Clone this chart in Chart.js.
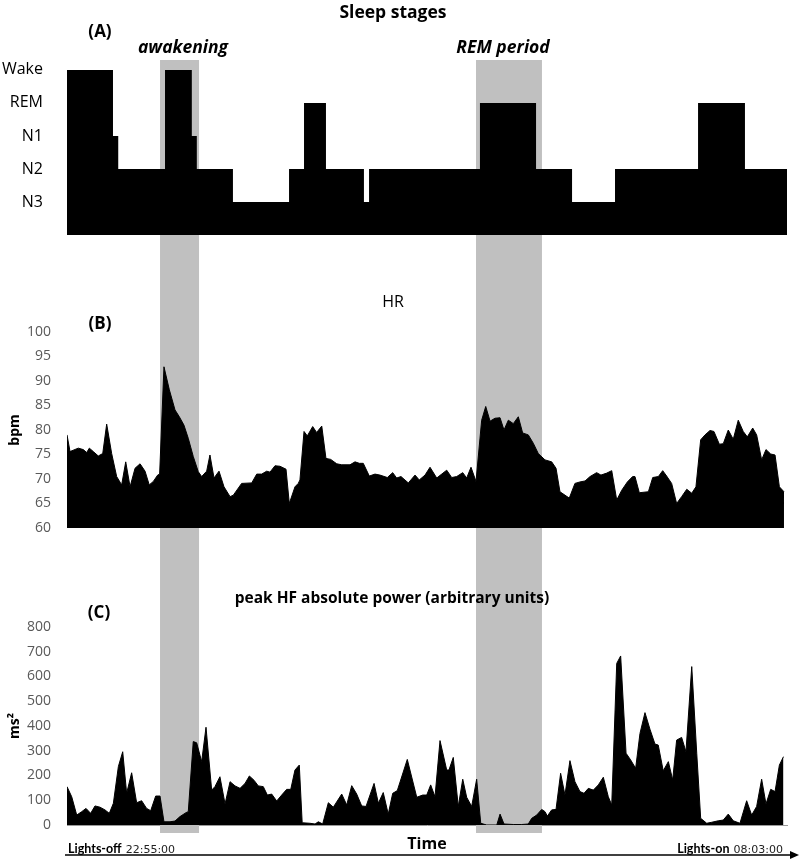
<!DOCTYPE html>
<html>
<head>
<meta charset="utf-8">
<script src="https://cdn.jsdelivr.net/npm/chart.js@4.4.1/dist/chart.umd.min.js"></script>
<style>
  html, body { margin: 0; padding: 0; background: #fff; }
  #page { position: relative; width: 800px; height: 860px; overflow: hidden; }
  #page canvas { position: absolute; left: 0; }
  .t { position: absolute; transform: translate(-50%, -50%); white-space: nowrap; color: #000; font-family: "Open Sans", Lato, sans-serif; }
  .b { font-weight: bold; }
  .i { font-style: italic; }
  .lights { position: absolute; top: 846px; transform: translateY(-50%); white-space: nowrap; font-family: Lato, sans-serif; }
  .lights b { font-family: Lato, sans-serif; font-size: 12.5px; }
  .lights span { font-family: "DejaVu Sans", sans-serif; font-size: 11px; color: #222; }
</style>
</head>
<body>
<div id="page">
  <canvas id="chartA" width="800" height="240" style="top:0"></canvas>
  <canvas id="chartC" width="800" height="330" style="top:530px"></canvas>
  <canvas id="chartB" width="800" height="300" style="top:240px"></canvas>

  <div class="t b" style="left:393px;top:11px;font-size:17.5px">Sleep stages</div>
  <div class="t b" style="left:100px;top:30px;font-size:17px">(A)</div>
  <div class="t b i" style="left:183px;top:46px;font-size:17.5px">awakening</div>
  <div class="t b i" style="left:503px;top:46px;font-size:17.5px">REM period</div>
  <div class="t" style="left:393px;top:301px;font-size:16px">HR</div>
  <div class="t b" style="left:100px;top:322px;font-size:17px">(B)</div>
  <div class="t b" style="left:99px;top:611px;font-size:17px">(C)</div>
  <div class="t b" style="left:392px;top:597px;font-size:15.5px">peak HF absolute power (arbitrary units)</div>
  <div class="t b" style="left:427px;top:843px;font-size:16px">Time</div>
  <div class="lights" style="left:68px"><b>Lights-off</b> <span>22:55:00</span></div>
  <div class="lights" style="right:17px"><b>Lights-on</b> <span>08:03:00</span></div>
</div>
<script>
// time axis in minutes after lights-off (22:55 -> 08:03 = 548 min)
const xMax = 548;

// grey highlight periods (minutes)
const bandStart = [70.8, 311.3];
const bandEnd = [100.5, 361.5];

// hypnogram: stage starts (minutes) and level (1=N3 ... 5=Wake)
const stageNames = ["", "N3", "N2", "N1", "REM", "Wake"];
const stageTime = [0, 35, 39, 74.6, 95, 98.8, 126.3, 169, 180.4, 197.1, 226, 229.9, 314.3, 357, 384.4, 417.1, 480.3, 516, 548];
const stageLevel = [5, 3, 2, 5, 3, 2, 1, 2, 4, 2, 1, 2, 4, 2, 1, 2, 4, 2, 2];

// heart rate (bpm)
const hrTime = [0, 2.3, 8.6, 12.4, 15, 17, 20, 23.8, 27.2, 30.2, 34, 37.8, 41.6, 44.7, 48, 51.8, 55.6, 59.4, 62.6, 65.7, 69, 70.5,
  73.8, 77.9, 82.2, 85.5, 89, 92.3, 96.1, 99.9, 102.5, 106.3, 108.8, 111.9, 115.7, 119.5, 124.1, 126.6, 132.9, 140.6, 144.4, 148.2,
  152, 154.5, 158.3, 162.1, 166.7, 169.2, 173.5, 176, 177.3, 180.4, 182.9, 187, 190, 193.9, 197.1, 200.7, 205.3, 209.1, 215.4,
  219.2, 222.5, 225.5, 230.1, 234.4, 238.2, 243.8, 247.9, 250.9, 254.2, 259.8, 264.9, 268.1, 272.5, 276.3, 281.4, 285.2, 289,
  292.8, 296.6, 301.2, 304.2, 307.5, 311.3, 315.6, 318.7, 322, 325.7, 329.6, 332.6, 335.9, 339.7, 343.5, 346.8, 351.1, 354.9,
  358.7, 363.8, 368.9, 372.2, 375.2, 382.3, 386.6, 390.4, 394.3, 398.1, 403.1, 406.4, 410.8, 414.6, 418.4, 422.2, 426.5, 430.5,
  432.3, 435.6, 442.5, 445.8, 450.1, 453.4, 456.4, 460.2, 464, 467.8, 471.7, 475.5, 478.7, 482.3, 485.6, 489.4, 492.4, 496.5,
  499.5, 503.3, 507.1, 510.9, 514.7, 517.8, 521.9, 524.9, 528.7, 532, 535.6, 538.9, 542.2, 545.7];
const hrBpm = [79, 75.6, 76.3, 76, 75.4, 76.3, 75.6, 74.7, 75.2, 81.2, 75.2, 70.5, 68.8, 73.5, 68.4, 72.2, 73.1, 71.6, 68.8, 69.5, 70.8, 71,
  92.9, 88.2, 84.1, 82.7, 81, 78.3, 74.6, 71.5, 70.5, 71.6, 74.9, 70.2, 71.6, 68.4, 66.4, 66.7, 69.1, 69.2, 71, 71,
  71.6, 71.4, 72.7, 72.6, 72, 65, 68.4, 69.1, 69.8, 79.7, 78.8, 80.7, 79.5, 80.8, 74.2, 74, 73.1, 72.9, 72.9,
  73.5, 73.2, 73.2, 70.6, 71, 70.8, 70.3, 71.3, 70.2, 70.5, 69.2, 70.8, 69.8, 70.8, 72.4, 70.2, 71, 71.8,
  70.3, 70.5, 71.3, 70.2, 72.4, 69.5, 82, 84.8, 81.8, 82.4, 82.5, 80, 82, 81.3, 82.7, 79.4, 79, 77.3,
  75.2, 73.9, 73.5, 72.2, 67.4, 66.1, 69.1, 69.4, 69.6, 70.5, 71.3, 70.8, 71.2, 71.7, 65.7, 67.7, 69.4, 70.5,
  70.5, 67.2, 67.4, 70.3, 70.5, 71.7, 70.6, 69.1, 65, 66.4, 67.9, 67.1, 68.4, 78, 79, 79.9, 79.7, 77.1,
  77.2, 80, 78.1, 82, 79.7, 78.6, 80.4, 79, 73.9, 76, 75.1, 74.9, 68.4, 67.4];

// peak HF absolute power (ms^2)
const hfTime = [0, 3.6, 7.4, 11.2, 14.5, 18, 21.3, 25.1, 28.9, 32.2, 35.3, 39.1, 42.4, 45.4, 49.2, 53, 56.8, 60.6, 63.7, 67.5,
  70.8, 73.8, 78.4, 82.2, 86, 90.6, 92.3, 96.1, 98.7, 102.5, 105.8, 110.1, 112.6, 116.4, 120.3, 124.1, 127.9, 131.7, 135.5,
  138.8, 142.3, 145.6, 149.4, 152.5, 155.8, 159.6, 163.4, 167.2, 170.3, 173.5, 176.8, 179, 184.9, 188.8, 191.3, 194.6, 198.9,
  202.7, 209.1, 212.9, 216.7, 220.5, 224.3, 227.6, 233.7, 237, 240.7, 244.5, 247.9, 251.4, 259, 266.2, 270.7, 273.8, 276.8,
  280.1, 283.9, 289, 290.7, 294, 297.8, 301.2, 304.2, 308, 311.8, 314.9, 319.4, 327.1, 329.6, 332.6, 339.7, 346.1, 351.1,
  353.7, 357.5, 361.3, 363.8, 365.6, 368.9, 372.2, 375.7, 379, 382.8, 386.6, 390.4, 393.5, 396.8, 400.6, 404.4, 408.2, 412,
  414.6, 418.4, 421.4, 425.5, 429, 432.8, 436.1, 439.9, 443.7, 447.5, 450, 453.8, 457.7, 461, 464, 467.8, 471.1, 475.5,
  479.3, 482.3, 486.9, 490.7, 495.7, 499.5, 503.3, 507.1, 512.2, 517.3, 521.1, 524.9, 528.7, 532, 535.6, 538.9, 542.2, 545.3];
const hfPower = [155, 114, 40, 54, 67, 47, 77, 72, 61, 47, 88, 236, 296, 128, 211, 90, 98, 67, 58, 117,
  117, 13, 13, 16, 34, 50, 54, 337, 332, 256, 395, 141, 155, 195, 85, 175, 158, 148, 168,
  198, 181, 158, 155, 121, 125, 97, 121, 144, 144, 222, 242, 9, 7, 4, 13, 4, 90,
  72, 125, 81, 159, 125, 77, 75, 168, 88, 131, 44, 128, 139, 265, 112, 121, 121, 162,
  114, 341, 222, 222, 273, 75, 185, 112, 75, 185, 7, 0, 0, 44, 4, 2, 2, 4,
  27, 40, 63, 54, 36, 61, 63, 209, 121, 260, 175, 135, 128, 148, 141, 162, 193, 114,
  81, 653, 683, 290, 263, 229, 370, 454, 387, 327, 323, 219, 256, 182, 343, 354, 296, 640,
  290, 27, 7, 11, 17, 20, 44, 17, 7, 98, 40, 75, 185, 85, 144, 135, 242, 276];

const toPoints = (xs, ys) => xs.map((x, i) => ({ x: x, y: ys[i] }));

const bandPlugin = {
  id: "bands",
  beforeDatasetsDraw(chart, args, opts) {
    const { ctx, scales } = chart;
    const top = opts.top != null ? opts.top : chart.chartArea.top;
    const bottom = opts.bottom != null ? opts.bottom : chart.height;
    ctx.save();
    ctx.fillStyle = "#c0c0c0";
    bandStart.forEach((s, i) => {
      const x1 = scales.x.getPixelForValue(s);
      const x2 = scales.x.getPixelForValue(bandEnd[i]);
      ctx.fillRect(x1, top, x2 - x1, bottom - top);
    });
    ctx.restore();
  },
};

const arrowPlugin = {
  id: "timeArrow",
  afterDraw(chart, args, opts) {
    if (!opts.y) return;
    const ctx = chart.ctx;
    ctx.save();
    ctx.strokeStyle = "#000";
    ctx.fillStyle = "#000";
    ctx.lineWidth = 1.5;
    ctx.beginPath();
    ctx.moveTo(65, opts.y);
    ctx.lineTo(792, opts.y);
    ctx.stroke();
    ctx.beginPath();
    ctx.moveTo(799, opts.y);
    ctx.lineTo(790, opts.y - 4);
    ctx.lineTo(790, opts.y + 4);
    ctx.closePath();
    ctx.fill();
    ctx.restore();
  },
};

const xScale = { type: "linear", min: 0, max: xMax, display: false };
// same y-axis width on every panel so the time axes line up;
// drop the label overhang so layout padding alone sets the plot area
const fixWidth = (scale) => {
  scale.width = 67;
  scale.paddingTop = 0;
  scale.paddingBottom = 0;
};

function makeChart(id, dataset, yScale, padding, bands, arrowY, xOverride) {
  return new Chart(document.getElementById(id), {
    type: "line",
    data: { datasets: [dataset] },
    options: {
      responsive: false,
      animation: false,
      layout: { padding: padding },
      plugins: {
        legend: { display: false },
        tooltip: { enabled: false },
        bands: bands,
        timeArrow: { y: arrowY },
      },
      elements: { point: { radius: 0 } },
      scales: { x: xOverride || xScale, y: yScale },
    },
    plugins: [bandPlugin, arrowPlugin],
  });
}

const tickFont = { family: "'Open Sans', sans-serif", size: 14 };
const titleFont = { family: "'Open Sans', sans-serif", size: 14, weight: "bold" };

// (A) hypnogram
makeChart("chartA", {
  data: toPoints(stageTime, stageLevel),
  stepped: "before",
  fill: "start",
  backgroundColor: "#000",
  borderColor: "#000",
  borderWidth: 0,
}, {
  min: 0,
  max: 5.3,
  afterFit: fixWidth,
  afterBuildTicks: (s) => { s.ticks = [1, 2, 3, 4, 5].map((v) => ({ value: v })); },
  grid: { display: false, drawTicks: false },
  border: { display: false },
  ticks: { padding: 24, color: "#000", font: { family: "'Open Sans', sans-serif", size: 16 }, callback: (v) => stageNames[v] },
}, { top: 60, bottom: 5, left: 0, right: 13 }, { bottom: 240 }, 0);

// (B) heart rate
makeChart("chartB", {
  data: toPoints(hrTime, hrBpm),
  fill: "start",
  backgroundColor: "#000",
  borderColor: "#000",
  borderWidth: 1,
  tension: 0,
}, {
  min: 60,
  max: 100,
  afterFit: fixWidth,
  grid: { display: false, drawTicks: false },
  border: { display: false },
  ticks: { stepSize: 5, padding: 16, color: "#595959", font: tickFont },
  title: { display: true, text: "bpm", color: "#000", font: titleFont, padding: { top: 7, bottom: 0 } },
}, { top: 92, bottom: 12, left: 0, right: 13 }, { top: 0, bottom: 300 }, 0);

// (C) peak HF absolute power
makeChart("chartC", {
  data: toPoints(hfTime, hfPower),
  fill: "start",
  backgroundColor: "#000",
  borderColor: "#000",
  borderWidth: 1,
  tension: 0,
}, {
  min: 0,
  max: 800,
  afterFit: fixWidth,
  grid: { display: false, drawTicks: false },
  border: { display: false },
  ticks: { stepSize: 100, padding: 16, color: "#595959", font: tickFont },
  title: { display: true, text: "ms²", color: "#000", font: titleFont, padding: { top: 7, bottom: 0 } },
}, { top: 97, bottom: 35, left: 0, right: 13 }, { top: 0, bottom: 303 }, 325, {
  type: "linear", min: 0, max: xMax, display: true,
  grid: { display: false, drawTicks: false },
  ticks: { display: false },
  border: { display: true, color: "#9a9a9a", width: 1 },
});
</script>
</body>
</html>
